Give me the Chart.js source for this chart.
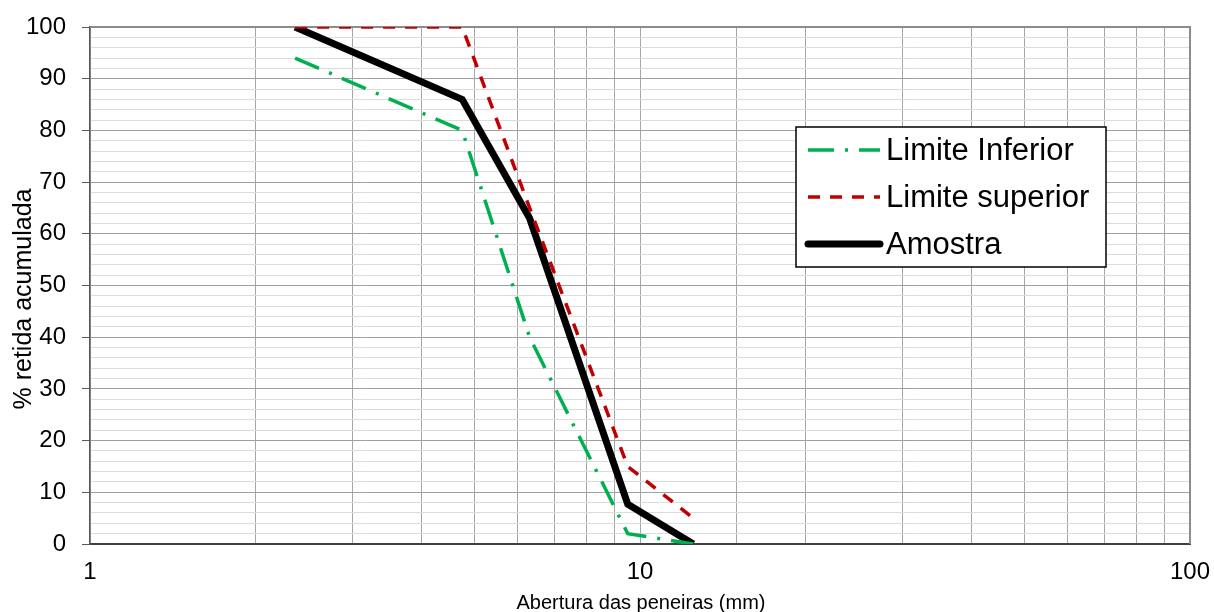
<!DOCTYPE html>
<html>
<head>
<meta charset="utf-8">
<script src="https://cdn.jsdelivr.net/npm/chart.js@4"></script>
<style>
  html, body { margin: 0; padding: 0; background: #fff; }
  #wrap { width: 1214px; height: 612px; }
</style>
</head>
<body>
<div id="wrap"><canvas id="curve"></canvas></div>
<script>
// sieve openings (mm) and cumulative % retained
const sieves = [2.36, 4.75, 6.3, 9.5, 12.5];
const limiteInferior = [94, 80, 40, 2, 0];
const limiteSuperior = [100, 100, 65, 15, 5];
const amostra = [100, 86, 63, 7.7, 0];
const xTickLabels = [1, 10, 100];
const yMajorStep = 10;

const FONT = '"Liberation Sans", Arial, sans-serif';

function pts(ys) {
    return sieves.map((x, i) => ({ x: x, y: ys[i] }));
}

// plot frame, legend box and axis titles drawn on the canvas
const extras = {
    id: 'extras',
    beforeDatasetsDraw(chart) {
        const c = chart.ctx;
        const a = chart.chartArea;
        c.save();
        c.strokeStyle = '#8c8c8c';
        c.lineWidth = 2;
        c.beginPath();
        c.moveTo(a.left, a.top);
        c.lineTo(a.right, a.top);
        c.lineTo(a.right, a.bottom);
        c.stroke();
        c.restore();
    },
    afterDraw(chart) {
        const c = chart.ctx;
        c.save();
        // axis titles
        c.fillStyle = '#000';
        c.font = '20px ' + FONT;
        c.textAlign = 'center';
        c.textBaseline = 'alphabetic';
        c.fillText('Abertura das peneiras (mm)', 641, 609);
        c.save();
        c.translate(31, 299);
        c.rotate(-Math.PI / 2);
        c.font = '25px ' + FONT;
        c.fillText('% retida acumulada', 0, 0);
        c.restore();

        // legend
        c.fillStyle = '#fff';
        c.fillRect(796, 127, 310, 140);
        c.strokeStyle = '#000';
        c.lineWidth = 1.5;
        c.strokeRect(796, 127, 310, 140);
        const rows = [
            { label: 'Limite Inferior', color: '#00B050', width: 3.5, dash: [26, 11, 3, 11], y: 150 },
            { label: 'Limite superior', color: '#C00000', width: 3.5, dash: [12, 10], y: 197 },
            { label: 'Amostra', color: '#000', width: 7, dash: [], y: 244 }
        ];
        rows.forEach(r => {
            c.beginPath();
            c.setLineDash(r.dash);
            c.strokeStyle = r.color;
            c.lineWidth = r.width;
            c.lineCap = r.dash.length ? 'butt' : 'round';
            c.moveTo(808, r.y);
            c.lineTo(880, r.y);
            c.stroke();
            c.setLineDash([]);
            c.fillStyle = '#000';
            c.font = '31px ' + FONT;
            c.textAlign = 'left';
            c.textBaseline = 'middle';
            c.fillText(r.label, 886, r.y + 1);
        });
        c.restore();
    }
};

window.onload = function() {
    const ctx = document.getElementById('curve').getContext('2d');
    new Chart(ctx, {
        type: 'line',
        data: {
            datasets: [{
                label: 'Limite Inferior',
                data: pts(limiteInferior),
                borderColor: '#00B050',
                borderWidth: 3.5,
                borderDash: [26, 11, 3, 11],
                pointRadius: 0,
                tension: 0,
                clip: 0
            }, {
                label: 'Limite superior',
                data: pts(limiteSuperior),
                borderColor: '#C00000',
                borderWidth: 3.5,
                borderDash: [12, 10],
                pointRadius: 0,
                tension: 0,
                clip: 0
            }, {
                label: 'Amostra',
                data: pts(amostra),
                borderColor: '#000000',
                borderWidth: 7,
                pointRadius: 0,
                tension: 0,
                clip: 0
            }]
        },
        options: {
            responsive: true,
            maintainAspectRatio: false,
            animation: false,
            layout: { padding: { top: 27, right: 24, left: 0, bottom: 0 } },
            plugins: {
                legend: { display: false },
                tooltip: { enabled: false }
            },
            scales: {
                x: {
                    type: 'logarithmic',
                    min: 1,
                    max: 100,
                    afterFit: s => {
                        s.height = 68;
                        s.paddingLeft = 0;
                        s.paddingRight = 0;
                    },
                    border: { color: '#404040', width: 2 },
                    grid: { color: '#a6a6a6', lineWidth: 1, drawTicks: false },
                    ticks: {
                        autoSkip: false,
                        maxRotation: 0,
                        padding: 14,
                        color: '#000',
                        font: { family: FONT, size: 24 },
                        callback: v => xTickLabels.includes(v) ? String(v) : ''
                    }
                },
                y: {
                    min: 0,
                    max: 100,
                    afterFit: s => {
                        s.width = 90;
                        s.paddingTop = 0;
                        s.paddingBottom = 0;
                    },
                    border: { color: '#595959', width: 1.5 },
                    grid: {
                        color: c => (c.tick && c.tick.value % yMajorStep === 0) ? '#a0a0a0' : '#dcdcdc',
                        tickColor: c => (c.tick && c.tick.value % yMajorStep === 0) ? '#595959' : 'rgba(0,0,0,0)',
                        tickLength: 8,
                        lineWidth: 1
                    },
                    ticks: {
                        stepSize: 2,
                        autoSkip: false,
                        padding: 16,
                        color: '#000',
                        font: { family: FONT, size: 24 },
                        callback: v => v % yMajorStep === 0 ? String(v) : ''
                    }
                }
            }
        },
        plugins: [extras]
    });
};
</script>
</body>
</html>
